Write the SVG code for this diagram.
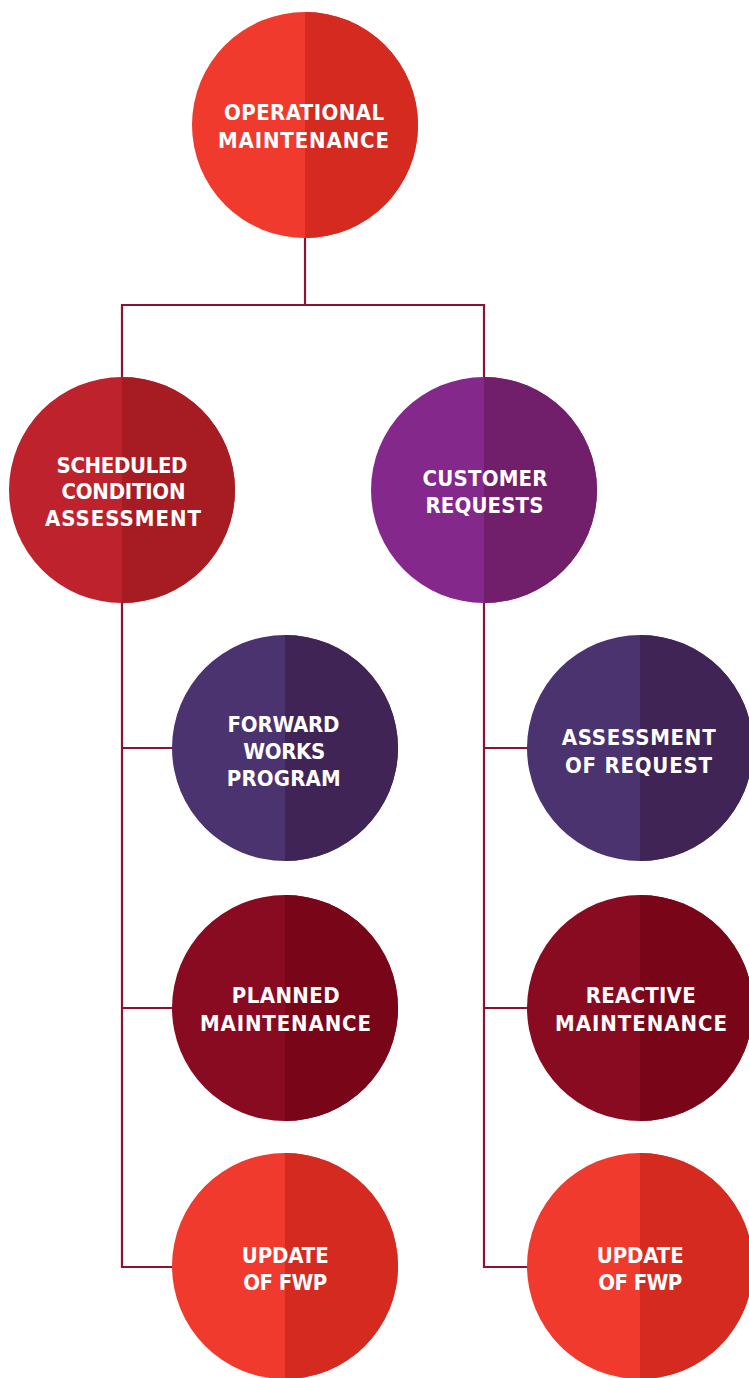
<svg xmlns="http://www.w3.org/2000/svg" width="749" height="1378" viewBox="0 0 749 1378">
<style>
.t{font-family:"Liberation Sans Narrow","DejaVu Sans Condensed","Liberation Sans",Arial,sans-serif;font-stretch:condensed;font-weight:bold;font-size:22px;fill:#ffffff}
.c{fill:none;stroke:#8c1330;stroke-width:2.2}
.redL{fill:#ef3a2d}.redR{fill:#d42a20}
.schL{fill:#be232d}.schR{fill:#a71c23}
.cusL{fill:#85288c}.cusR{fill:#711e6b}
.purL{fill:#4a336e}.purR{fill:#402456}
.marL{fill:#890b22}.marR{fill:#780518}
</style>
<defs>
<clipPath id="cr"><rect x="0" y="-120" width="120" height="240"/></clipPath>
</defs>
<rect width="749" height="1378" fill="#ffffff"/>
<g id="connectors">
<path class="c" d="M305,238 V305 M122,378 V305 H484 V378"/>
<path class="c" d="M122,603 V1267 H173 M122,748 H173 M122,1008 H173"/>
<path class="c" d="M484,603 V1267 H528 M484,748 H528 M484,1008 H528"/>
</g>
<g id="operational" transform="translate(305,125)">
<circle r="113" class="redL"/><circle r="113" class="redR" clip-path="url(#cr)"/>
<text class="t" x="-81" y="-5" textLength="160" lengthAdjust="spacing">OPERATIONAL</text>
<text class="t" x="-87" y="22.5" textLength="171" lengthAdjust="spacing">MAINTENANCE</text>
</g>
<g id="scheduled" transform="translate(122,490)">
<circle r="113" class="schL"/><circle r="113" class="schR" clip-path="url(#cr)"/>
<text class="t" x="-65.5" y="-17.5" textLength="131" lengthAdjust="spacing">SCHEDULED</text>
<text class="t" x="-60.5" y="9" textLength="124" lengthAdjust="spacing">CONDITION</text>
<text class="t" x="-77" y="36" textLength="156" lengthAdjust="spacing">ASSESSMENT</text>
</g>
<g id="customer" transform="translate(484,490)">
<circle r="113" class="cusL"/><circle r="113" class="cusR" clip-path="url(#cr)"/>
<text class="t" x="-61.5" y="-4" textLength="125" lengthAdjust="spacing">CUSTOMER</text>
<text class="t" x="-58.5" y="22.7" textLength="118" lengthAdjust="spacing">REQUESTS</text>
</g>
<g id="forward" transform="translate(285,748)">
<circle r="113" class="purL"/><circle r="113" class="purR" clip-path="url(#cr)"/>
<text class="t" x="-57.5" y="-16.3" textLength="112" lengthAdjust="spacing">FORWARD</text>
<text class="t" x="-41.7" y="11" textLength="82" lengthAdjust="spacing">WORKS</text>
<text class="t" x="-58.3" y="37.7" textLength="114" lengthAdjust="spacing">PROGRAM</text>
</g>
<g id="assessment" transform="translate(640,748)">
<circle r="113" class="purL"/><circle r="113" class="purR" clip-path="url(#cr)"/>
<text class="t" x="-78.3" y="-3" textLength="154" lengthAdjust="spacing">ASSESSMENT</text>
<text class="t" x="-75" y="24.7" textLength="147" lengthAdjust="spacing">OF REQUEST</text>
</g>
<g id="planned" transform="translate(285,1008)">
<circle r="113" class="marL"/><circle r="113" class="marR" clip-path="url(#cr)"/>
<text class="t" x="-53.3" y="-4.7" textLength="108" lengthAdjust="spacing">PLANNED</text>
<text class="t" x="-85" y="22.7" textLength="171" lengthAdjust="spacing">MAINTENANCE</text>
</g>
<g id="reactive" transform="translate(640,1008)">
<circle r="113" class="marL"/><circle r="113" class="marR" clip-path="url(#cr)"/>
<text class="t" x="-54.3" y="-4.7" textLength="110" lengthAdjust="spacing">REACTIVE</text>
<text class="t" x="-85" y="22.7" textLength="172" lengthAdjust="spacing">MAINTENANCE</text>
</g>
<g id="update-left" transform="translate(285,1266)">
<circle r="113" class="redL"/><circle r="113" class="redR" clip-path="url(#cr)"/>
<text class="t" x="-43.3" y="-3.3" textLength="87" lengthAdjust="spacing">UPDATE</text>
<text class="t" x="-41.7" y="24" textLength="84" lengthAdjust="spacing">OF FWP</text>
</g>
<g id="update-right" transform="translate(640,1266)">
<circle r="113" class="redL"/><circle r="113" class="redR" clip-path="url(#cr)"/>
<text class="t" x="-43.3" y="-3.3" textLength="87" lengthAdjust="spacing">UPDATE</text>
<text class="t" x="-41.7" y="24" textLength="84" lengthAdjust="spacing">OF FWP</text>
</g>
</svg>
